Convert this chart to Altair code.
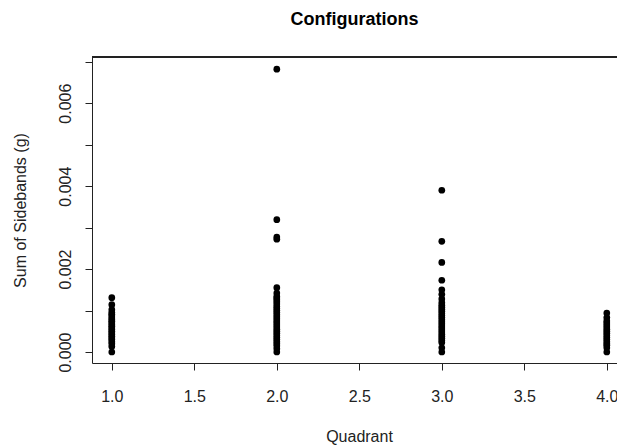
import altair as alt
import pandas as pd

title_text = "Configurations"
x_title = "Quadrant"
y_title = "Sum of Sidebands (g)"

q1 = [0.0, 0.00013, 0.0002, 0.00025, 0.0003, 0.00034, 0.00038, 0.00042, 0.00046,
      0.0005, 0.00054, 0.00058, 0.00062, 0.00066, 0.0007, 0.00074, 0.00078, 0.00082,
      0.00087, 0.00091, 0.00095, 0.00102, 0.00114, 0.00131]
q2 = [0.0, 0.00008, 0.00015, 0.0002, 0.00025, 0.0003, 0.00035, 0.0004, 0.00045,
      0.0005, 0.00055, 0.0006, 0.00065, 0.0007, 0.00075, 0.0008, 0.00085, 0.0009,
      0.00095, 0.001, 0.00105, 0.0011, 0.00116, 0.00121, 0.00126, 0.0013, 0.00134,
      0.00142, 0.00155, 0.00272, 0.00277, 0.00319, 0.00682]
q3 = [0.0, 0.0001, 0.00023, 0.00028, 0.00033, 0.00038, 0.00043, 0.00048, 0.00053,
      0.00058, 0.00063, 0.00068, 0.00073, 0.00078, 0.00083, 0.00088, 0.00093,
      0.00098, 0.00103, 0.00108, 0.00113, 0.00119, 0.00128, 0.00139, 0.0015,
      0.00173, 0.00216, 0.00267, 0.0039]
q4 = [0.0, 0.0001, 0.00016, 0.0002, 0.00025, 0.0003, 0.00035, 0.0004, 0.00045,
      0.0005, 0.00055, 0.0006, 0.00065, 0.0007, 0.00075, 0.00083, 0.00094]

quadrants = [1, 2, 3, 4]
x_ticks = [1.0, 1.5, 2.0, 2.5, 3.0, 3.5, 4.0]
y_ticks = [0.0, 0.001, 0.002, 0.003, 0.004, 0.005, 0.006, 0.007]

rows = []
for q, vals in zip(quadrants, [q1, q2, q3, q4]):
    for v in vals:
        rows.append({"Quadrant": q, "Sidebands": v})
df = pd.DataFrame(rows)

FONT = "Liberation Sans"
W, H = 525, 306

points = alt.Chart(df).mark_circle(size=45, color="black", opacity=1).encode(
    x=alt.X("Quadrant:Q",
            scale=alt.Scale(domain=[0.88, 0.88 + W / 165.0], nice=False, zero=False),
            axis=alt.Axis(values=x_ticks, format=".1f", title=x_title,
                          grid=False, tickSize=7, tickColor="#222", domainColor="#222",
                          labelFont=FONT, labelFontSize=16, labelColor="#222",
                          labelBaseline="alphabetic", labelPadding=31,
                          titleFont=FONT, titleFontSize=16, titleFontWeight="normal",
                          titleColor="#222", titleX=267, titleY=78,
                          titleBaseline="alphabetic", titleAlign="center",
                          labelFlush=False, labelOverlap=False)),
    y=alt.Y("Sidebands:Q",
            scale=alt.Scale(domain=[-0.000265, 0.007113], nice=False, zero=False),
            axis=alt.Axis(values=y_ticks,
                          labelExpr="round(datum.value*1000) % 2 == 0 ? format(datum.value, '.3f') : ''",
                          title=y_title, grid=False, tickSize=7, tickColor="#222",
                          domainColor="#222",
                          labelFont=FONT, labelFontSize=16, labelColor="#222",
                          labelAngle=270, labelAlign="center", labelBaseline="alphabetic",
                          labelPadding=15, labelFlush=False, labelOverlap=False,
                          titleFont=FONT, titleFontSize=16, titleFontWeight="normal",
                          titleColor="#222", titleAngle=270, titleX=-67, titleY=H / 2,
                          titleAlign="center", titleBaseline="alphabetic")),
)

top_line = alt.Chart(df).mark_rule(color="#222", strokeWidth=1).encode(
    x=alt.value(0), x2=alt.value(W), y=alt.value(0)
)

chart = alt.layer(points, top_line).properties(
    width=W, height=H,
    title=alt.TitleParams(title_text, font=FONT, fontSize=18, fontWeight="bold",
                          color="black", anchor="middle", baseline="alphabetic", offset=14),
    autosize=alt.AutoSizeParams(type="none"),
    padding={"left": 92, "top": 57, "right": 0, "bottom": 85},
).configure_view(stroke=None)

chart.save("out.html", embed_options={"renderer": "svg", "actions": False})
